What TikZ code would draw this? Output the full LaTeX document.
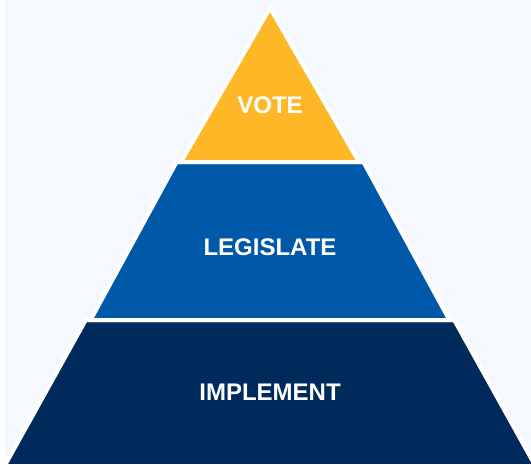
\documentclass[tikz,border=0pt]{standalone}
\usepackage{fontspec}
\setmainfont{Liberation Sans}
\usetikzlibrary{positioning}
\definecolor{paper}{HTML}{F5F8FC}
\definecolor{votegold}{HTML}{FDB727}
\definecolor{legisblue}{HTML}{0059A8}
\definecolor{implnavy}{HTML}{002A5C}
\tikzset{
    tier/.style={draw=white, line width=4pt, line join=miter},
    tiertext/.style={text=white, font=\fontsize{24}{27}\selectfont\bfseries, inner sep=0pt},
}

\begin{document}
\begin{tikzpicture}[x=1pt, y=-1pt]
	\useasboundingbox (0,0) rectangle (531,464);
	\fill[white] (0,0) rectangle (531,464);
	\fill[paper] (5,0) rectangle (531,464);
	\clip (0,0) rectangle (531,464);
	% bottom tier
	\filldraw[tier, fill=implnavy] (85.8,320) -- (454.2,320) -- (535.4,466) -- (4.6,466) -- cycle;
	% middle tier
	\filldraw[tier, fill=legisblue] (176.6,162) -- (363.4,162) -- (449.4,320) -- (90.6,320) -- cycle;
	% top tier
	\filldraw[tier, fill=votegold] (270,8) -- (359,162) -- (181,162) -- cycle;
	\node[tiertext] (vote) at (270,105) {VOTE};
	\node[tiertext] (legislate) at (270,247) {LEGISLATE};
	\node[tiertext] (implement) at (270,392) {IMPLEMENT};
\end{tikzpicture}
\end{document}
